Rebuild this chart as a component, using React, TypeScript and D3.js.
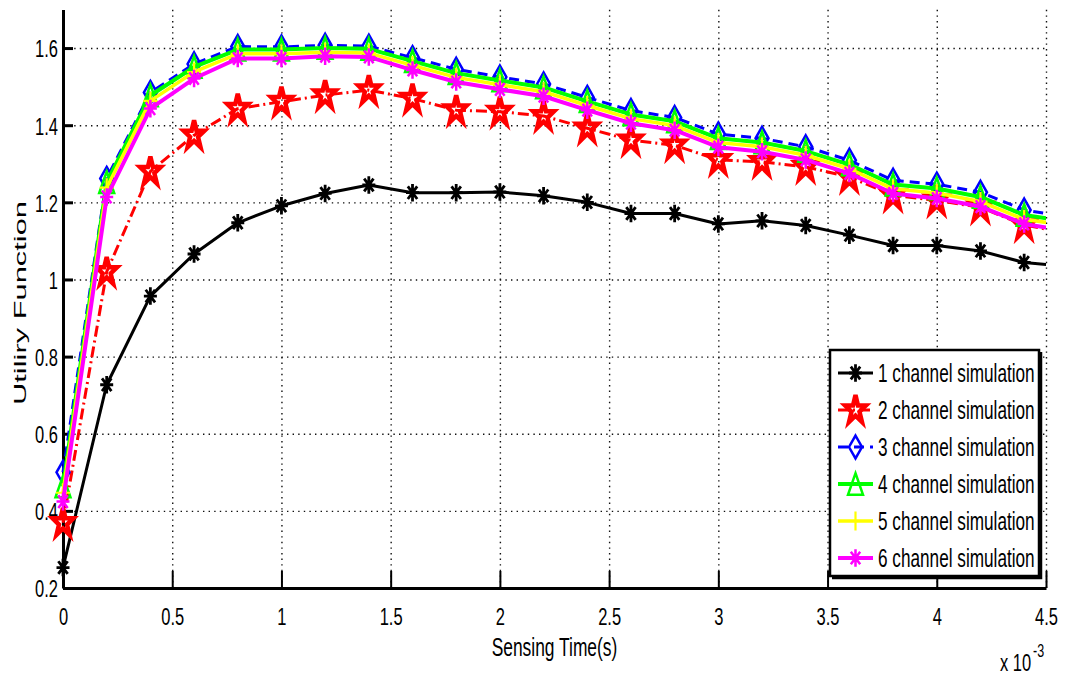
import React, { useRef, useEffect } from 'react'
import { select, scaleLinear, line, axisBottom, axisLeft } from 'd3'

// sensing time in units of 10^-3 s (last point lies past the axis limit and is clipped)
const sensingTime = [0, 0.2, 0.4, 0.6, 0.8, 1, 1.2, 1.4, 1.6, 1.8, 2, 2.2, 2.4, 2.6, 2.8, 3, 3.2, 3.4, 3.6, 3.8, 4, 4.2, 4.4, 4.6]

const channel1 = [0.253, 0.727, 0.957, 1.066, 1.147, 1.191, 1.223, 1.245, 1.225, 1.225, 1.227, 1.217, 1.2, 1.171, 1.171, 1.144, 1.152, 1.14, 1.115, 1.088, 1.088, 1.074, 1.044, 1.034]
const channel2 = [0.369, 1.02, 1.28, 1.374, 1.443, 1.461, 1.478, 1.491, 1.469, 1.439, 1.435, 1.424, 1.392, 1.361, 1.348, 1.31, 1.305, 1.292, 1.266, 1.218, 1.205, 1.187, 1.141, 1.12]
const channel3 = [0.5, 1.262, 1.485, 1.559, 1.604, 1.603, 1.607, 1.605, 1.575, 1.545, 1.525, 1.507, 1.472, 1.438, 1.42, 1.377, 1.366, 1.344, 1.309, 1.257, 1.247, 1.226, 1.18, 1.163]
const channel4 = [0.463, 1.252, 1.477, 1.551, 1.596, 1.596, 1.6, 1.598, 1.566, 1.535, 1.516, 1.498, 1.462, 1.428, 1.41, 1.366, 1.355, 1.333, 1.298, 1.246, 1.236, 1.214, 1.167, 1.15]
const channel5 = [0.447, 1.238, 1.463, 1.538, 1.585, 1.585, 1.589, 1.587, 1.555, 1.524, 1.505, 1.487, 1.451, 1.417, 1.399, 1.355, 1.344, 1.322, 1.287, 1.235, 1.224, 1.202, 1.156, 1.14]
const channel6 = [0.424, 1.214, 1.443, 1.521, 1.573, 1.573, 1.579, 1.577, 1.543, 1.512, 1.493, 1.475, 1.439, 1.405, 1.387, 1.343, 1.331, 1.31, 1.275, 1.223, 1.21, 1.189, 1.144, 1.126]

const legendLabels = ['1 channel simulation', '2 channel simulation', '3 channel simulation', '4 channel simulation', '5 channel simulation', '6 channel simulation']

const xTicks = [0, 0.5, 1, 1.5, 2, 2.5, 3, 3.5, 4, 4.5]
const yTicks = [0.2, 0.4, 0.6, 0.8, 1, 1.2, 1.4, 1.6]

const FONT = 'Liberation Sans, Arial, Helvetica, sans-serif'

// marker outlines, drawn around 0,0 and stretched vertically later
const markerPath = (type) => {
  if (type === 'asterisk') {
    const r = 6.5, a = r * 0.72
    return `M0,${-r}V${r}M${-r},0H${r}M${-a},${-a}L${a},${a}M${-a},${a}L${a},${-a}`
  }
  if (type === 'star') {
    const R = 11, r = R * 0.382
    let p = ''
    for (let i = 0; i < 10; i++) {
      const ang = -Math.PI / 2 + i * Math.PI / 5
      const rad = i % 2 === 0 ? R : r
      p += (i === 0 ? 'M' : 'L') + (rad * Math.cos(ang)).toFixed(2) + ',' + (rad * Math.sin(ang)).toFixed(2)
    }
    return p + 'Z'
  }
  if (type === 'diamond') return 'M0,-8.5L6.5,0L0,8.5L-6.5,0Z'
  if (type === 'triangle') return 'M0,-8L7.5,8L-7.5,8Z'
  if (type === 'plus') return 'M0,-7V7M-7,0H7'
  return ''
}

export default function App() {

  const canvas = useRef(null)

  const width = 1070
  const height = 676
  const left = 63, right = 1046, top = 9.5, bottom = 588
  const sy = 1.35

  useEffect(() => {

    const svg = select(canvas.current)
    svg.selectAll('*').remove()

    const x = scaleLinear().domain([0, 4.5]).range([left, right])
    const y = scaleLinear().domain([0.2, 1.7]).range([bottom, top])

    const series = [
      { values: channel1, color: '#000000', width: 3, dash: null, marker: 'asterisk', mw: 2.8 },
      { values: channel2, color: '#ff0000', width: 3, dash: '11 4 2 4', marker: 'star', mw: 4.5 },
      { values: channel3, color: '#0000ff', width: 3, dash: '10 6', marker: 'diamond', mw: 2.5 },
      { values: channel4, color: '#00ff00', width: 4, dash: null, marker: 'triangle', mw: 2.5 },
      { values: channel5, color: '#ffff00', width: 3.5, dash: null, marker: 'plus', mw: 2.2 },
      { values: channel6, color: '#ff00ff', width: 4, dash: null, marker: 'asterisk', mw: 2.5 },
    ]

    svg.append('rect').attr('width', width).attr('height', height).attr('fill', '#fff')

    // dotted grid
    const gridX = svg.append('g').attr('transform', `translate(0,${bottom})`)
      .call(axisBottom(x).tickValues(xTicks.slice(1)).tickSize(-(bottom - top)).tickFormat(() => ''))
    gridX.select('.domain').remove()
    gridX.selectAll('line').attr('stroke', '#111').attr('stroke-width', 1.4).attr('stroke-dasharray', '1.4 4.2')

    const gridY = svg.append('g').attr('transform', `translate(${left},0)`)
      .call(axisLeft(y).tickValues(yTicks.slice(1)).tickSize(-(right - left)).tickFormat(() => ''))
    gridY.select('.domain').remove()
    gridY.selectAll('line').attr('stroke', '#111').attr('stroke-width', 1.4).attr('stroke-dasharray', '1.4 4.2')

    // axes
    const xAxis = svg.append('g').attr('transform', `translate(0,${bottom})`)
      .call(axisBottom(x).tickValues(xTicks).tickSize(-17).tickSizeOuter(0).tickPadding(13).tickFormat(d => `${d}`))
    xAxis.select('.domain').attr('stroke', '#000').attr('stroke-width', 3)
    xAxis.selectAll('.tick line').attr('stroke', '#000').attr('stroke-width', 2)
    xAxis.selectAll('text').attr('font-size', 16.5).attr('font-family', FONT).attr('fill', '#000').attr('transform', 'scale(1,1.5)')

    const yAxis = svg.append('g').attr('transform', `translate(${left},0)`)
      .call(axisLeft(y).tickValues(yTicks).tickSize(-10).tickSizeOuter(0).tickPadding(5).tickFormat(d => `${d}`))
    yAxis.select('.domain').attr('stroke', '#000').attr('stroke-width', 3)
    yAxis.selectAll('.tick line').attr('stroke', '#000').attr('stroke-width', 3)
    yAxis.selectAll('text').attr('font-size', 16.5).attr('font-family', FONT).attr('fill', '#000').attr('dy', '0.36em').attr('transform', 'scale(1,1.5)')

    // data
    svg.append('clipPath').attr('id', 'plotClip').append('rect')
      .attr('x', 0).attr('y', 0).attr('width', right).attr('height', height)

    const lineGen = line().x((d, i) => x(sensingTime[i])).y(d => y(d))

    series.forEach(s => {
      const g = svg.append('g')
      g.append('path').datum(s.values).attr('clip-path', 'url(#plotClip)')
        .attr('d', lineGen).attr('fill', 'none').attr('stroke', s.color)
        .attr('stroke-width', s.width).attr('stroke-linejoin', 'round')
        .attr('stroke-dasharray', s.dash)
      g.selectAll('path.mk').data(s.values.filter((d, i) => sensingTime[i] <= 4.5)).enter()
        .append('path').attr('class', 'mk')
        .attr('d', markerPath(s.marker))
        .attr('transform', (d, i) => `translate(${x(sensingTime[i])},${y(d)}) scale(1,${sy})`)
        .attr('fill', 'none').attr('stroke', s.color).attr('stroke-width', s.mw)
        .attr('stroke-linejoin', 'miter')
        .attr('vector-effect', 'non-scaling-stroke')
    })

    // axis labels
    svg.append('g').attr('transform', `translate(${(left + right) / 2},656) scale(1,1.45)`)
      .append('text').attr('text-anchor', 'middle').attr('font-size', 17.4).attr('font-family', FONT)
      .text('Sensing Time(s)')

    svg.append('text').attr('transform', 'translate(26,303) rotate(-90)')
      .attr('x', -102).attr('font-size', 17).attr('font-family', FONT)
      .attr('textLength', 204).attr('lengthAdjust', 'spacingAndGlyphs')
      .text('Utiliry Function')

    svg.append('g').attr('transform', 'translate(1000,671) scale(1,1.45)')
      .append('text').attr('font-size', 16.5).attr('font-family', FONT).text('x 10')
    svg.append('g').attr('transform', 'translate(1033,657) scale(1,1.45)')
      .append('text').attr('font-size', 12.5).attr('font-family', FONT).text('-3')

    // legend
    const legend = svg.append('g')
    legend.append('rect').attr('x', 830).attr('y', 350).attr('width', 209).attr('height', 226)
      .attr('fill', '#fff').attr('stroke', '#000').attr('stroke-width', 2.5)
    legend.append('path').attr('d', 'M1041,352V578H832').attr('fill', 'none').attr('stroke', '#000').attr('stroke-width', 2.5)

    series.forEach((s, i) => {
      const cy = 373 + i * 37
      legend.append('line').attr('x1', 838).attr('x2', 873).attr('y1', cy).attr('y2', cy)
        .attr('stroke', s.color).attr('stroke-width', s.width).attr('stroke-dasharray', s.dash)
      legend.append('path').attr('d', markerPath(s.marker))
        .attr('transform', `translate(855.5,${cy}) scale(1,${sy})`)
        .attr('fill', 'none').attr('stroke', s.color).attr('stroke-width', s.mw)
        .attr('vector-effect', 'non-scaling-stroke')
      legend.append('g').attr('transform', `translate(878,${cy}) scale(1,1.5)`)
        .append('text').attr('dy', '0.36em').attr('font-size', 17.2).attr('font-family', FONT)
        .text(legendLabels[i])
    })

  }, [])

  return (
    <svg ref={canvas} width={width} height={height} style={{ position: 'absolute', left: 0, top: 0 }} />
  )
}
